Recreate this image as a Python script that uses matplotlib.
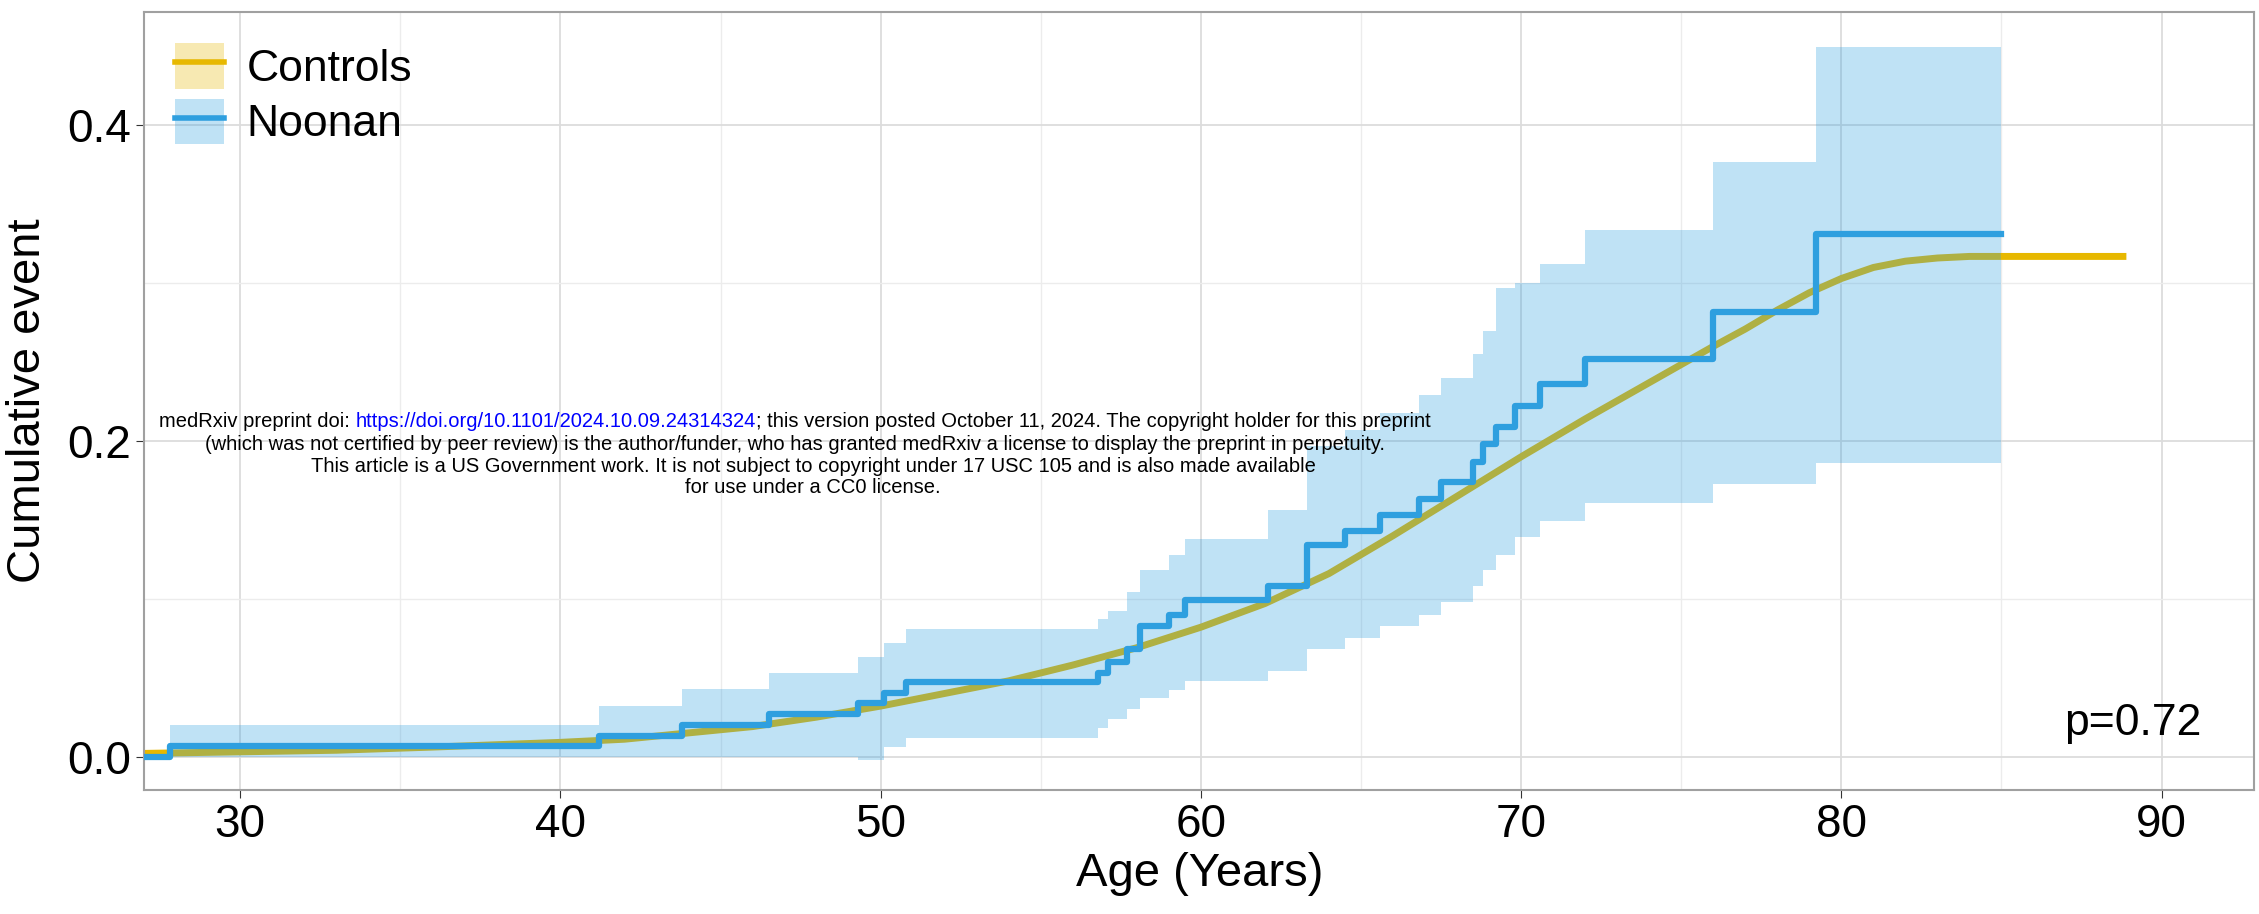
import matplotlib
matplotlib.use("Agg")
import matplotlib.pyplot as plt
import numpy as np

plt.rcParams['font.family'] = ['Liberation Sans', 'DejaVu Sans']

# Noonan KM-type cumulative event steps (step starts)
noonan_t = [27.0, 27.8, 41.2, 43.8, 46.5, 49.3, 50.1, 50.8, 56.8, 57.1, 57.7, 58.1, 59.0, 59.5,
            62.1, 63.3, 64.5, 65.6, 66.8, 67.5, 68.5, 68.8, 69.2, 69.8, 70.6, 72.0, 76.0, 79.2, 85.0]
noonan_y = [0.0, 0.007, 0.013, 0.020, 0.027, 0.034, 0.040, 0.047, 0.053, 0.060, 0.068, 0.083, 0.090, 0.099,
            0.108, 0.134, 0.143, 0.153, 0.163, 0.174, 0.187, 0.198, 0.209, 0.222, 0.236, 0.252, 0.282, 0.331, 0.331]
noonan_lo = [0.0, 0.0, 0.0, 0.0, 0.0, -0.002, 0.006, 0.012, 0.018, 0.024, 0.030, 0.037, 0.042, 0.048,
             0.054, 0.068, 0.075, 0.083, 0.090, 0.098, 0.108, 0.118, 0.128, 0.139, 0.149, 0.161, 0.173, 0.186, 0.186]
noonan_hi = [0.0, 0.020, 0.032, 0.043, 0.053, 0.063, 0.072, 0.081, 0.087, 0.092, 0.104, 0.118, 0.128, 0.138,
             0.156, 0.197, 0.207, 0.218, 0.229, 0.240, 0.255, 0.270, 0.297, 0.300, 0.312, 0.334, 0.377, 0.450, 0.450]

# Controls smooth curve
ctrl_t = [27, 30, 33, 36, 40, 42, 44, 46, 48, 50, 52, 54, 56, 58, 60, 62, 64, 66, 68, 70, 72, 74, 76,
          77, 78, 79, 80, 81, 82, 83, 84, 86, 88.9]
ctrl_y = [0.002, 0.003, 0.004, 0.006, 0.009, 0.011, 0.015, 0.019, 0.025, 0.032, 0.040, 0.048, 0.058, 0.069,
          0.082, 0.097, 0.116, 0.140, 0.165, 0.190, 0.214, 0.237, 0.260, 0.271, 0.283, 0.294, 0.303, 0.310,
          0.314, 0.316, 0.317, 0.317, 0.317]

yellow = '#E7B800'
blue = '#2E9FDF'

fig = plt.figure(figsize=(22.59, 9.14), dpi=100)
ax = fig.add_axes([0.0638, 0.136, 0.9342, 0.851])

ax.plot(ctrl_t, ctrl_y, color=yellow, lw=5, zorder=2, solid_capstyle='butt')
ax.fill_between(noonan_t, noonan_lo, noonan_hi, step='post', color=blue, alpha=0.3, lw=0, zorder=3)
ax.step(noonan_t, noonan_y, where='post', color=blue, lw=4.5, zorder=4)

ax.set_xlim(27.0, 92.9)
ax.set_ylim(-0.021, 0.472)
ax.set_xticks([30, 40, 50, 60, 70, 80, 90])
ax.set_xticks([35, 45, 55, 65, 75, 85], minor=True)
ax.set_yticks([0.0, 0.2, 0.4])
ax.set_yticks([0.1, 0.3], minor=True)
ax.set_yticklabels(['0.0', '0.2', '0.4'])
ax.grid(True, which='major', color='#dcdcdc', lw=1.3)
ax.grid(True, which='minor', color='#ececec', lw=1.0)
ax.set_axisbelow(True)
for s in ax.spines.values():
    s.set_color('#a0a0a0'); s.set_linewidth(1.5)
ax.tick_params(axis='both', which='major', labelsize=33, length=6, color='#333333')
ax.tick_params(axis='both', which='minor', length=0)
ax.set_xlabel('Age (Years)', fontsize=34, labelpad=4)
ax.set_ylabel('Cumulative event', fontsize=34, labelpad=12)

from matplotlib.patches import Patch
from matplotlib.lines import Line2D
h1 = (Patch(facecolor=yellow, alpha=0.3, lw=0), Line2D([], [], color=yellow, lw=4))
h2 = (Patch(facecolor=blue, alpha=0.3, lw=0), Line2D([], [], color=blue, lw=4))
ax.legend([h1, h2], ['Controls', 'Noonan'], loc='upper left', fontsize=32, frameon=False,
          handlelength=1.1, handleheight=1.2, handletextpad=0.5, borderaxespad=0.3, labelspacing=0.2)

ax.text(0.975, 0.085, 'p=0.72', transform=ax.transAxes, ha='right', va='center', fontsize=32)

# medRxiv watermark
fs = 14.5
y0 = 0.539
t1a = 'medRxiv preprint doi: '
t1b = 'https://doi.org/10.1101/2024.10.09.24314324'
t1c = '; this version posted October 11, 2024. The copyright holder for this preprint'
full = t1a + t1b + t1c
r = fig.canvas.get_renderer()
def width(s):
    t = fig.text(0, 0, s, fontsize=fs)
    w = t.get_window_extent(r).width / fig.bbox.width
    t.remove()
    return w
W = width(full)
xs = 0.352 - W / 2
fig.text(xs, y0, t1a, fontsize=fs, va='center')
xs += width(t1a)
fig.text(xs, y0, t1b, fontsize=fs, va='center', color='blue')
xs += width(t1b)
fig.text(xs, y0, t1c, fontsize=fs, va='center')
fig.text(0.352, 0.514, '(which was not certified by peer review) is the author/funder, who has granted medRxiv a license to display the preprint in perpetuity.',
         fontsize=fs, ha='center', va='center')
fig.text(0.360, 0.490, 'This article is a US Government work. It is not subject to copyright under 17 USC 105 and is also made available',
         fontsize=fs, ha='center', va='center')
fig.text(0.360, 0.467, 'for use under a CC0 license.', fontsize=fs, ha='center', va='center')

fig.savefig('out.png', dpi=100)
